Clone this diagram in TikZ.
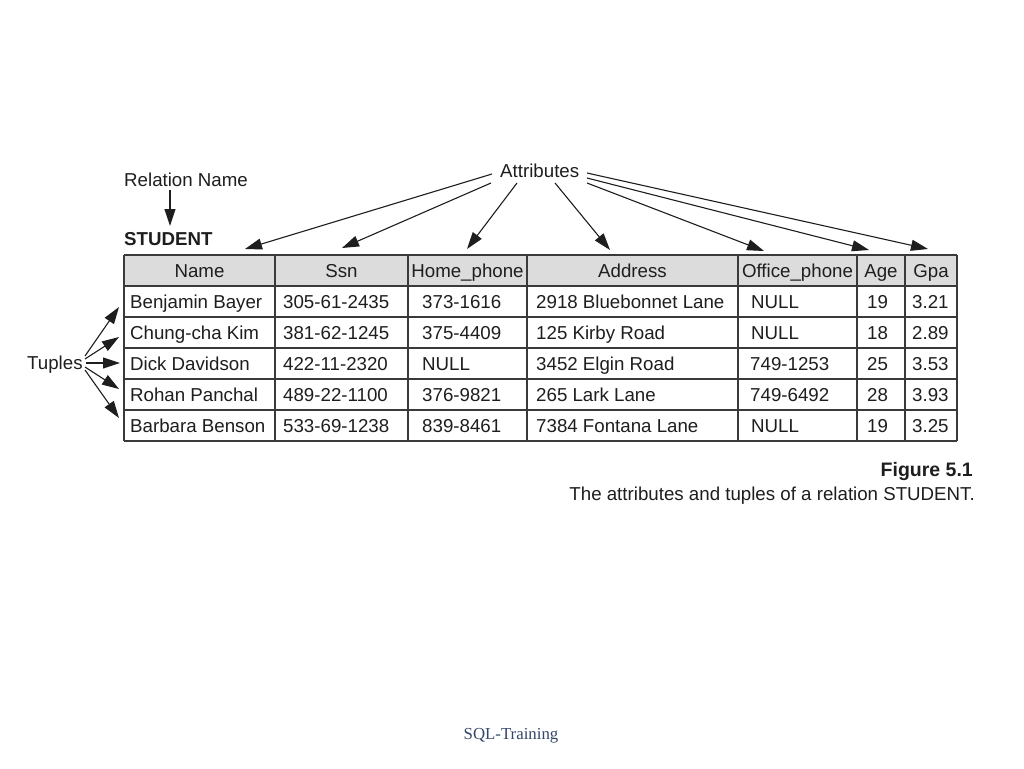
\documentclass[tikz,border=0pt]{standalone}
\usepackage{fontspec}
\setmainfont{Liberation Sans}
\newfontfamily\serifft{Liberation Serif}
\usetikzlibrary{arrows.meta}
\definecolor{ink}{HTML}{1E1E1E}
\definecolor{rule}{HTML}{3A3A3A}
\definecolor{headfill}{HTML}{DCDCDC}
\definecolor{footblue}{HTML}{34466A}
\tikzset{
  txt/.style={inner sep=0pt, text=ink, font=\fontsize{18.7}{22}\selectfont},
  cellw/.style={txt, anchor=base west},
  cellc/.style={txt, anchor=base},
  pointer/.style={draw=ink, line width=1.1pt, -{Triangle[length=17pt,width=11pt]}},
  gridline/.style={draw=rule, line width=1.4pt},
}
\begin{document}
\begin{tikzpicture}[x=1pt,y=-1pt]
\useasboundingbox[fill=white] (0,0) rectangle (1024,768);

% table frame
\fill[headfill] (124,255) rectangle (957,286);
\foreach \yy in {255,286,317,348,379,410,441}{
  \draw[gridline] (124,\yy) -- (957,\yy);
}
\foreach \xx in {124,275,408,527,738,857,905,957}{
  \draw[gridline] (\xx,255) -- (\xx,441);
}

% header
\node[cellc] (hName) at (199.5,277) {Name};
\node[cellc] (hSsn) at (341.5,277) {Ssn};
\node[cellc] (hHome) at (467.5,277) {Home\_phone};
\node[cellc] (hAddr) at (632.5,277) {Address};
\node[cellc] (hOff) at (797.5,277) {Office\_phone};
\node[cellc] (hAge) at (881,277) {Age};
\node[cellc] (hGpa) at (931,277) {Gpa};

% rows
\node[cellw] (r1a) at (130,308) {Benjamin Bayer};
\node[cellw] (r1b) at (283,308) {305-61-2435};
\node[cellw] (r1c) at (422,308) {373-1616};
\node[cellw] (r1d) at (536,308) {2918 Bluebonnet Lane};
\node[cellw] (r1e) at (751,308) {NULL};
\node[cellw] (r1f) at (867,308) {19};
\node[cellw] (r1g) at (912,308) {3.21};

\node[cellw] (r2a) at (130,339) {Chung-cha Kim};
\node[cellw] (r2b) at (283,339) {381-62-1245};
\node[cellw] (r2c) at (422,339) {375-4409};
\node[cellw] (r2d) at (536,339) {125 Kirby Road};
\node[cellw] (r2e) at (751,339) {NULL};
\node[cellw] (r2f) at (867,339) {18};
\node[cellw] (r2g) at (912,339) {2.89};

\node[cellw] (r3a) at (130,370) {Dick Davidson};
\node[cellw] (r3b) at (283,370) {422-11-2320};
\node[cellw] (r3c) at (422,370) {NULL};
\node[cellw] (r3d) at (536,370) {3452 Elgin Road};
\node[cellw] (r3e) at (750,370) {749-1253};
\node[cellw] (r3f) at (867,370) {25};
\node[cellw] (r3g) at (912,370) {3.53};

\node[cellw] (r4a) at (130,401) {Rohan Panchal};
\node[cellw] (r4b) at (283,401) {489-22-1100};
\node[cellw] (r4c) at (422,401) {376-9821};
\node[cellw] (r4d) at (536,401) {265 Lark Lane};
\node[cellw] (r4e) at (750,401) {749-6492};
\node[cellw] (r4f) at (867,401) {28};
\node[cellw] (r4g) at (912,401) {3.93};

\node[cellw] (r5a) at (130,432) {Barbara Benson};
\node[cellw] (r5b) at (283,432) {533-69-1238};
\node[cellw] (r5c) at (422,432) {839-8461};
\node[cellw] (r5d) at (536,432) {7384 Fontana Lane};
\node[cellw] (r5e) at (751,432) {NULL};
\node[cellw] (r5f) at (867,432) {19};
\node[cellw] (r5g) at (912,432) {3.25};

% labels
\node[cellw] (relname) at (124,186) {Relation Name};
\node[cellw, font=\fontsize{18.7}{22}\selectfont\bfseries] (student) at (124,245) {STUDENT};
\node[cellw] (attr) at (500,177) {Attributes};
\node[cellw] (tuples) at (27,369) {Tuples};
\node[txt, anchor=base east, font=\fontsize{19.5}{22}\selectfont\bfseries] (fig) at (973,476) {Figure 5.1};
\node[txt, anchor=base east] (cap) at (975,500) {The attributes and tuples of a relation STUDENT.};
\node[inner sep=0pt, anchor=base, text=footblue, font=\serifft\fontsize{16.8}{20}\selectfont] (foot) at (511,739) {SQL-Training};

% relation name arrow
\coordinate (rnS) at (170,190);
\coordinate (rnT) at (170,226);
\draw[pointer] (rnS) -- (rnT);

% attribute arrows
\coordinate (aS1) at (492,174);
\coordinate (aS2) at (491,183);
\coordinate (aS3) at (517,183);
\coordinate (aS4) at (555,183);
\coordinate (aS5) at (587,183);
\coordinate (aS6) at (587,178);
\coordinate (aS7) at (587,173);
\coordinate (aT1) at (245,249);
\coordinate (aT2) at (342,248);
\coordinate (aT3) at (467,249);
\coordinate (aT4) at (610,250);
\coordinate (aT5) at (764,251);
\coordinate (aT6) at (869,250);
\coordinate (aT7) at (928,249);
\foreach \i in {1,...,7}{
  \draw[pointer] (aS\i) -- (aT\i);
}

% tuple arrows
\coordinate (tS1) at (85,356);
\coordinate (tS2) at (85,359);
\coordinate (tS3) at (86,363);
\coordinate (tS4) at (85,367);
\coordinate (tS5) at (85,370);
\coordinate (tT1) at (119,307);
\coordinate (tT2) at (119,337);
\coordinate (tT3) at (120,363);
\coordinate (tT4) at (119,389);
\coordinate (tT5) at (119,418);
\foreach \i in {1,...,5}{
  \draw[pointer] (tS\i) -- (tT\i);
}
\end{tikzpicture}
\end{document}
